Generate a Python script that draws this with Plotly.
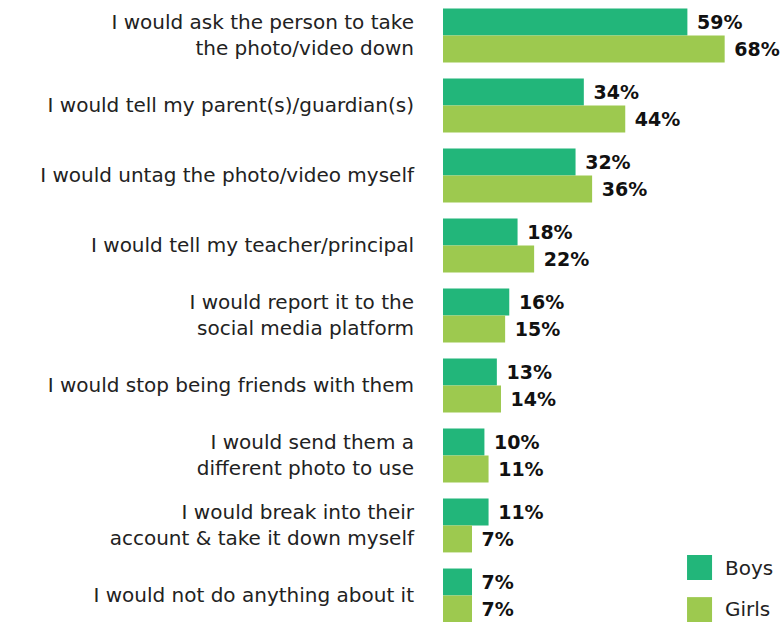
import plotly.graph_objects as go

categories = [
    "I would ask the person to take<br>the photo/video down",
    "I would tell my parent(s)/guardian(s)",
    "I would untag the photo/video myself",
    "I would tell my teacher/principal",
    "I would report it to the<br>social media platform",
    "I would stop being friends with them",
    "I would send them a<br>different photo to use",
    "I would break into their<br>account & take it down myself",
    "I would not do anything about it",
]
boys = [59, 34, 32, 18, 16, 13, 10, 11, 7]
girls = [68, 44, 36, 22, 15, 14, 11, 7, 7]

BOYS_C = "#22b67a"
GIRLS_C = "#9dc94f"
FONT = "DejaVu Sans"

fig = go.Figure()
for name, vals, col in [("Boys", boys, BOYS_C), ("Girls", girls, GIRLS_C)]:
    fig.add_trace(go.Bar(
        y=categories, x=vals, orientation="h", name=name,
        marker=dict(color=col, line=dict(width=0)),
        text=[f"\u00a0{v}%" for v in vals], textposition="outside",
        textfont=dict(family=FONT, size=19, color="#111111", weight="bold"),
        cliponaxis=False,
    ))

# legend drawn manually (square swatches)
fig.add_shape(type="rect", xref="paper", yref="paper",
              x0=0.722, x1=0.796, y0=0.0675, y1=0.1077,
              fillcolor=BOYS_C, line=dict(width=0))
fig.add_shape(type="rect", xref="paper", yref="paper",
              x0=0.722, x1=0.796, y0=0.0, y1=0.040,
              fillcolor=GIRLS_C, line=dict(width=0))
fig.add_annotation(x=0.828, y=0.0876, xref="paper", yref="paper",
                   text="Boys", showarrow=False, xanchor="left", yanchor="middle",
                   font=dict(family=FONT, size=20, color="#222222"))
fig.add_annotation(x=0.828, y=0.0209, xref="paper", yref="paper",
                   text="Girls", showarrow=False, xanchor="left", yanchor="middle",
                   font=dict(family=FONT, size=20, color="#222222"))

fig.update_layout(
    width=781, height=622,
    margin=dict(l=443, r=0, t=0, b=0),
    barmode="group", bargap=0.23, bargroupgap=0,
    showlegend=False,
    plot_bgcolor="white", paper_bgcolor="white",
    font=dict(family=FONT, size=20, color="#222222"),
    xaxis=dict(range=[0, 81.6], visible=False, showgrid=False, zeroline=False),
    yaxis=dict(categoryorder="array", categoryarray=categories,
               range=[8.379, -0.507], showgrid=False, zeroline=False,
               showline=False, ticks="outside", ticklen=24, tickcolor="white",
               tickfont=dict(family=FONT, size=20, color="#222222")),
)

fig.write_html("out.html")
